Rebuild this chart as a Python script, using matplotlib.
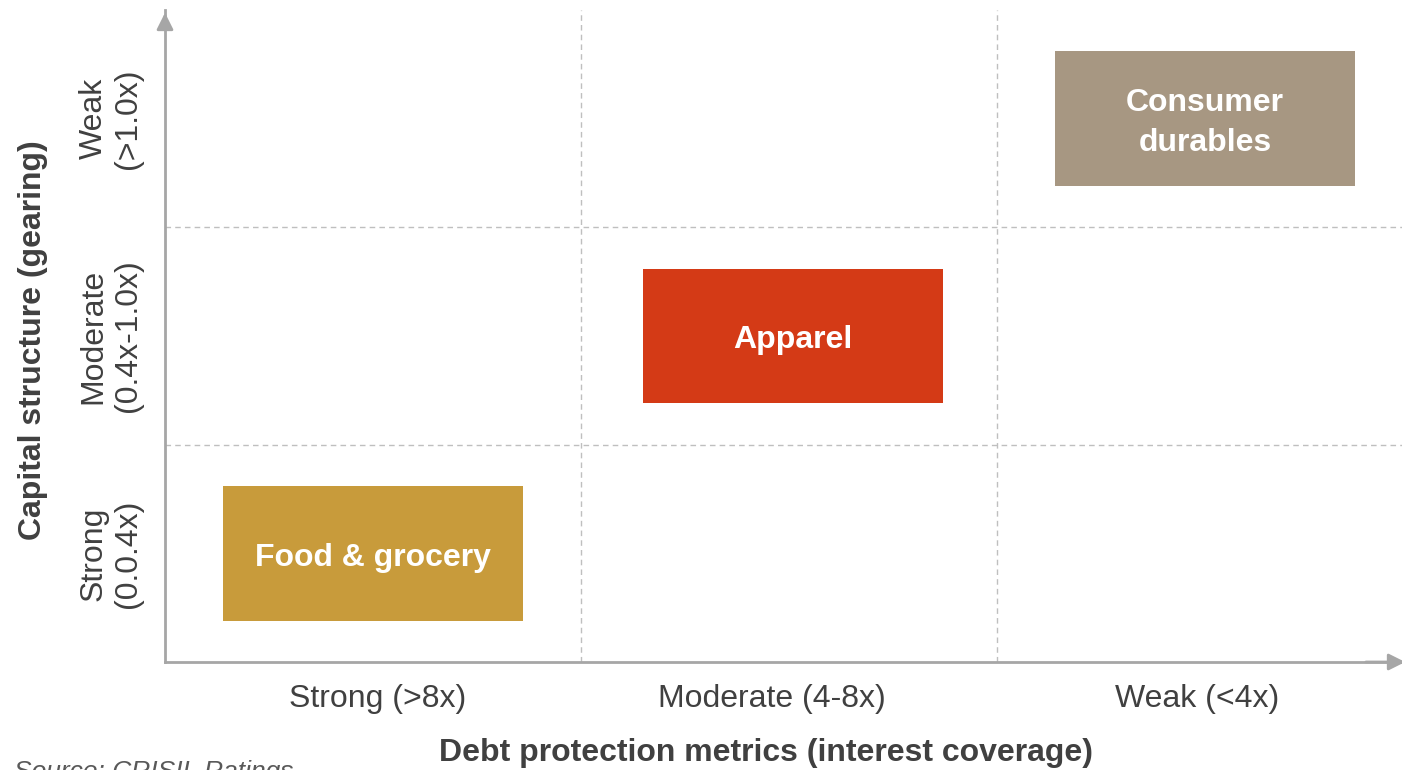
import matplotlib.pyplot as plt
from matplotlib.patches import Rectangle

plt.rcParams['font.family'] = ['Liberation Sans', 'DejaVu Sans']

# Rating matrix: debt protection (x) vs capital structure (y)
x_categories = ['Strong (>8x)', 'Moderate (4-8x)', 'Weak (<4x)']
y_categories = ['Strong\n(0.0.4x)', 'Moderate\n(0.4x-1.0x)', 'Weak\n(>1.0x)']

segments = ['Food & grocery', 'Apparel', 'Consumer\ndurables']
segment_x = [0.5, 1.51, 2.5]   # box centre, in cell units
segment_y = [0.5, 1.5, 2.5]
segment_colors = ['#C89B3B', '#D43A16', '#A79782']

x_label_pos = [0.51, 1.46, 2.48]

AXIS_GREY = '#A6A6A6'
TEXT_GREY = '#404040'

fig = plt.figure(figsize=(14.02, 7.70), dpi=100)
ax = fig.add_axes([165 / 1402, 108 / 770, 1248 / 1402, 652 / 770])
ax.set_xlim(0, 3)
ax.set_ylim(0, 3)

for s in ['top', 'right']:
    ax.spines[s].set_visible(False)
for s in ['left', 'bottom']:
    ax.spines[s].set_color(AXIS_GREY)
    ax.spines[s].set_linewidth(2)

# dashed cell borders
for v in [1, 2]:
    ax.axvline(v, color='#BFBFBF', linestyle=(0, (4, 3)), linewidth=1)
    ax.axhline(v, color='#BFBFBF', linestyle=(0, (4, 3)), linewidth=1)

# boxes
bw, bh = 0.72, 0.62
for name, cx, cy, col in zip(segments, segment_x, segment_y, segment_colors):
    ax.add_patch(Rectangle((cx - bw / 2, cy - bh / 2), bw, bh,
                           facecolor=col, edgecolor='none', zorder=3))
    # nudge the label down a little so it sits optically centred
    ax.text(cx, cy - 0.02, name, ha='center', va='center', color='white',
            fontsize=23, fontweight='bold', linespacing=1.4, zorder=4)

ax.set_xticks(x_label_pos)
ax.set_xticklabels(x_categories, fontsize=23, color=TEXT_GREY)
ax.set_yticks([0.5, 1.5, 2.5])
ax.set_yticklabels(y_categories, fontsize=23, color=TEXT_GREY, rotation=90,
                   va='center', ha='center', linespacing=1.2)
ax.tick_params(axis='both', length=0)
ax.tick_params(axis='x', pad=16)
ax.tick_params(axis='y', pad=39)

# arrow heads on the axes
arrow = dict(arrowstyle='-|>', color=AXIS_GREY, lw=2, mutation_scale=25)
ax.annotate('', xy=(0, 1.0), xycoords='axes fraction', xytext=(0, 0.97),
            arrowprops=arrow, annotation_clip=False)
ax.annotate('', xy=(0.996, 0), xycoords='axes fraction', xytext=(0.96, 0),
            arrowprops=arrow, annotation_clip=False)

fig.text(33 / 1402, 1 - 340 / 770, 'Capital structure (gearing)', rotation=90,
         ha='center', va='center', fontsize=23, fontweight='bold', color=TEXT_GREY)
fig.text(766 / 1402, 1 - 753 / 770, 'Debt protection metrics (interest coverage)',
         ha='center', va='center', fontsize=23, fontweight='bold', color=TEXT_GREY)
fig.text(14 / 1402, -0.018, 'Source: CRISIL Ratings', ha='left', va='bottom',
         fontsize=19, style='italic', color='#595959')

fig.savefig('out.png', dpi=100)
